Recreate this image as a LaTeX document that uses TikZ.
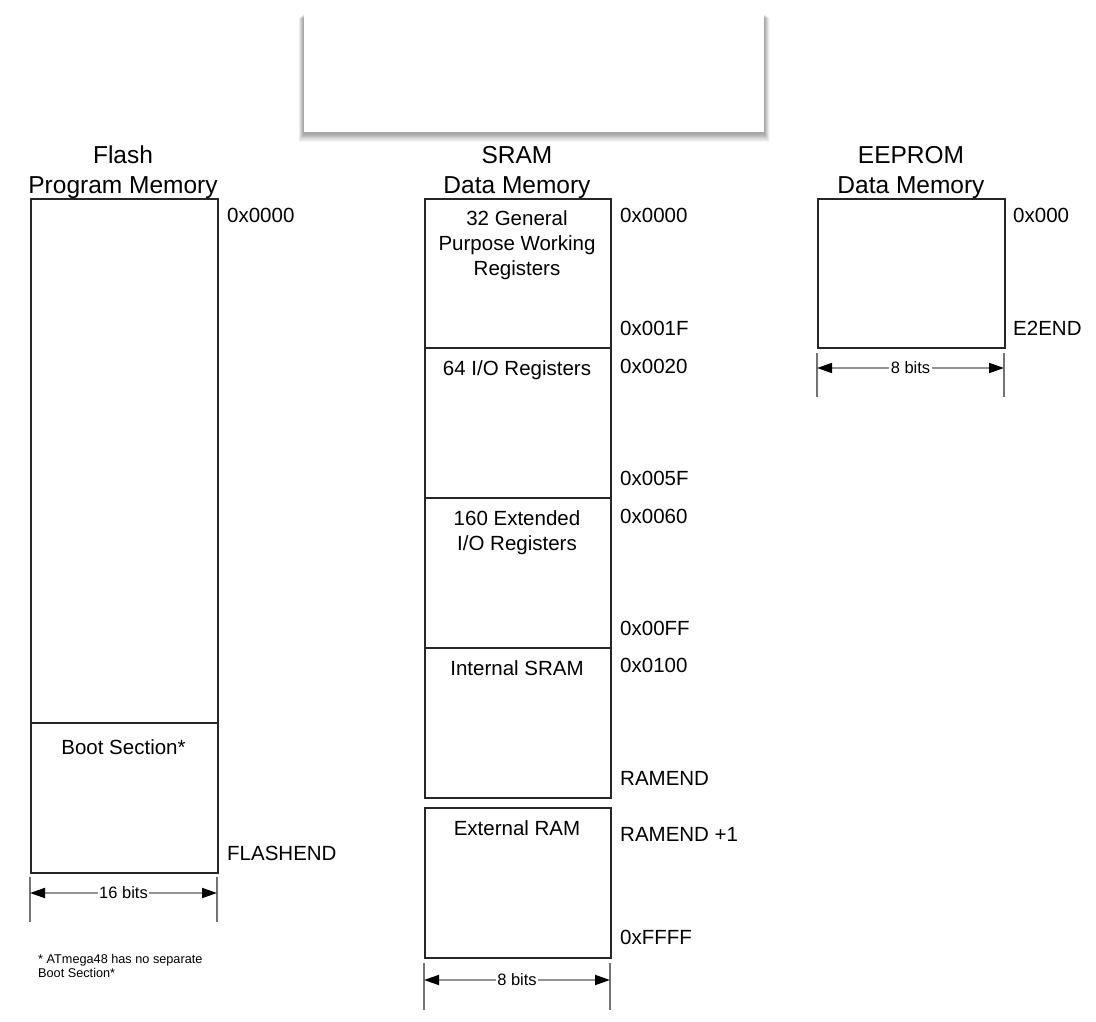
\documentclass[tikz,border=0pt]{standalone}
\usepackage{fontspec}
\setmainfont{Liberation Sans}
\usetikzlibrary{arrows.meta}
\begin{document}
\begin{tikzpicture}[x=1pt,y=-1pt,
  membox/.style={draw=black!85, line width=1.6pt, rectangle, inner sep=0pt, anchor=north west},
  title/.style={font=\fontsize{24.5}{30}\selectfont, anchor=base, inner sep=0pt},
  addr/.style={font=\fontsize{20.5}{25}\selectfont, anchor=base west, inner sep=0pt},
  boxtext/.style={font=\fontsize{20.5}{25}\selectfont, anchor=base, inner sep=0pt},
  tick/.style={draw=black!55, line width=1.8pt},
  dimline/.style={draw=black!42, line width=1.8pt, {Triangle[length=15pt,width=10pt,black]}-{Triangle[length=15pt,width=10pt,black]}},
  dimtext/.style={font=\fontsize{16.5}{18}\selectfont, fill=white, inner sep=1.5pt},
  note/.style={font=\fontsize{12.7}{14}\selectfont, anchor=base west, inner sep=0pt, align=left}]
\useasboundingbox (0,0) rectangle (1096,1022);
\fill[white] (0,0) rectangle (1096,1022);
% top white box with shadow
\foreach \i in {1,...,10} {
  \fill[black, opacity=0.04] (304-\i*0.55,14+\i*0.4) rectangle (764+\i*0.55,133+\i*0.9);
}
\node[rectangle, fill=white, inner sep=0pt, minimum width=460pt, minimum height=122pt, anchor=north west] (topbox) at (304,10) {};

% titles
\node[title] (flashT1) at (123,163.3) {Flash};
\node[title] (flashT2) at (123,193.5) {Program Memory};
\node[title] (sramT1) at (517,163.3) {SRAM};
\node[title] (sramT2) at (517,193.5) {Data Memory};
\node[title] (eepT1) at (911,163.3) {EEPROM};
\node[title] (eepT2) at (911,193.5) {Data Memory};

% Flash
\node[membox, minimum width=187pt, minimum height=524pt] (flash) at (30,198) {};
\node[membox, minimum width=187pt, minimum height=150pt] (boot) at (30,722) {};
\node[boxtext] (bootT) at (123.5,754.5) {Boot Section*};
\node[addr] (fa0) at (227,222.5) {0x0000};
\node[addr] (fa1) at (227,860.5) {FLASHEND};

% SRAM
\node[membox, minimum width=186pt, minimum height=149pt] (gpr) at (424,198) {};
\node[membox, minimum width=186pt, minimum height=150pt] (io) at (424,347) {};
\node[membox, minimum width=186pt, minimum height=150pt] (extio) at (424,497) {};
\node[membox, minimum width=186pt, minimum height=150pt] (isram) at (424,647) {};
\node[membox, minimum width=186pt, minimum height=150pt] (xram) at (424,807) {};
\node[boxtext] (gprT1) at (517,225.5) {32 General};
\node[boxtext] (gprT2) at (517,250.5) {Purpose Working};
\node[boxtext] (gprT3) at (517,275.2) {Registers};
\node[boxtext] (ioT) at (517,375.5) {64 I/O Registers};
\node[boxtext] (extioT1) at (517,525.5) {160 Extended};
\node[boxtext] (extioT2) at (517,550.5) {I/O Registers};
\node[boxtext] (isramT) at (517,675.5) {Internal SRAM};
\node[boxtext] (xramT) at (517,835.5) {External RAM};
\node[addr] (sa0) at (620,222.5) {0x0000};
\node[addr] (sa1) at (620,335.5) {0x001F};
\node[addr] (sa2) at (620,373.5) {0x0020};
\node[addr] (sa3) at (620,485.5) {0x005F};
\node[addr] (sa4) at (620,523.5) {0x0060};
\node[addr] (sa5) at (620,635.5) {0x00FF};
\node[addr] (sa6) at (620,672.5) {0x0100};
\node[addr] (sa7) at (620,785.5) {RAMEND};
\node[addr] (sa8) at (620,841.5) {RAMEND +1};
\node[addr] (sa9) at (620,944.5) {0xFFFF};

% EEPROM
\node[membox, minimum width=187pt, minimum height=149pt] (eep) at (817,198) {};
\node[addr] (ea0) at (1013,222.5) {0x000};
\node[addr] (ea1) at (1013,335.5) {E2END};

% dimension: flash
\coordinate (fl1) at (30,877); \coordinate (fl2) at (30,922);
\coordinate (fr1) at (217,877); \coordinate (fr2) at (217,922);
\coordinate (fal) at (30,893); \coordinate (far) at (217,893);
\draw[tick] (fl1) -- (fl2);
\draw[tick] (fr1) -- (fr2);
\draw[dimline] (fal) -- (far);
\node[dimtext] (fdim) at (123.5,892.5) {16 bits};

% dimension: sram
\coordinate (sl1) at (424,963); \coordinate (sl2) at (424,1010);
\coordinate (sr1) at (610,963); \coordinate (sr2) at (610,1010);
\coordinate (sal) at (424,980); \coordinate (sar) at (610,980);
\draw[tick] (sl1) -- (sl2);
\draw[tick] (sr1) -- (sr2);
\draw[dimline] (sal) -- (sar);
\node[dimtext] (sdim) at (517,979.5) {8 bits};

% dimension: eeprom
\coordinate (el1) at (817,353); \coordinate (el2) at (817,397);
\coordinate (er1) at (1004,353); \coordinate (er2) at (1004,397);
\coordinate (eal) at (817,368); \coordinate (ear) at (1004,368);
\draw[tick] (el1) -- (el2);
\draw[tick] (er1) -- (er2);
\draw[dimline] (eal) -- (ear);
\node[dimtext] (edim) at (910.5,367.5) {8 bits};

% footnote
\node[note] (fn1) at (38,963.3) {* ATmega48 has no separate};
\node[note] (fn2) at (38,977.3) {Boot Section*};
\end{tikzpicture}
\end{document}
